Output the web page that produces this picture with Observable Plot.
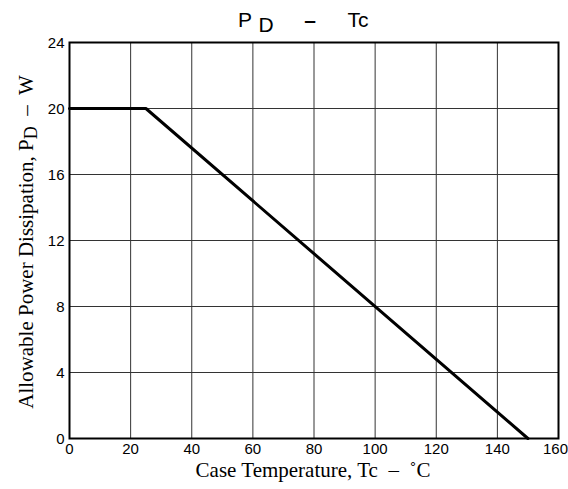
<!DOCTYPE html>
<html>
<head>
<meta charset="utf-8">
<script src="https://cdn.jsdelivr.net/npm/d3@7"></script>
<script src="https://cdn.jsdelivr.net/npm/@observablehq/plot@0.6"></script>
<style>
  html, body { margin: 0; padding: 0; background: white; }
  svg text.t { white-space: pre; }
  svg g[aria-label$="tick label"] { font-size: 15px !important; font-family: 'Liberation Sans', Arial, sans-serif !important; }
  svg g[aria-label$="tick label"] text { font-size: 15px !important; }
</style>
</head>
<body>
<div id="chart"></div>
<script>
// Data
const caseTemp = [0, 25, 150];          // Tc, °C
const powerDiss = [20, 20, 0];          // PD, W
const xTicks = [0, 20, 40, 60, 80, 100, 120, 140, 160];
const yTicks = [0, 4, 8, 12, 16, 20, 24];

const data = caseTemp.map((t, i) => ({ t, p: powerDiss[i] }));
const xMax = xTicks[xTicks.length - 1];

const W = 568, H = 489;
const chart = Plot.plot({
  width: W,
  height: H,
  marginLeft: 69,
  marginRight: 10,
  marginTop: 42,
  marginBottom: 51,
  style: { fontFamily: "'Liberation Sans', Arial, sans-serif", fontSize: "15px", color: "black", background: "white" },
  x: { domain: [0, 160] },
  y: { domain: [0, 24] },
  marks: [
    Plot.gridX(xTicks, { stroke: "#333", strokeOpacity: 1, strokeWidth: 1 }),
    Plot.gridY(yTicks, { stroke: "#333", strokeOpacity: 1, strokeWidth: 1 }),
    Plot.axisX(xTicks.filter(d => d !== xMax), { tickSize: 0, tickPadding: 5, label: null, fill: "black", fontSize: 15 }),
    Plot.axisX([xMax], { tickSize: 0, tickPadding: 5, label: null, fill: "black", fontSize: 15, dx: -3 }),
    Plot.axisY(yTicks, { tickSize: 0, tickPadding: 5, label: null, fill: "black", fontSize: 15, dy: 1 }),
    Plot.frame({ stroke: "black", strokeWidth: 2 }),
    Plot.line(data, { x: "t", y: "p", stroke: "black", strokeWidth: 3 })
  ]
});
document.getElementById("chart").appendChild(chart);

const svg = d3.select(chart);
// Title
const title = svg.append("text").attr("class", "t")
  .attr("y", 27)
  .attr("font-family", "'Liberation Sans', Arial, sans-serif")
  .attr("font-size", 21)
  .style("font-size", "21px").attr("fill", "black");
title.append("tspan").attr("x", 245).text("P");
title.append("tspan").attr("x", 266).attr("dy", 5).text("D");
title.append("tspan").attr("x", 310).attr("dy", -5).style("font-weight", "bold").text("–");
title.append("tspan").attr("x", 358).text("Tc");

// X axis label
svg.append("text").attr("class", "t")
  .attr("x", 313).attr("y", 477)
  .attr("text-anchor", "middle")
  .style("font-family", "'Liberation Serif', 'Times New Roman', serif")
  .style("font-size", "21px").attr("fill", "black")
  .text("Case Temperature, Tc  –  ˚C");

// Y axis label
const yl = svg.append("text").attr("class", "t")
  .attr("transform", "translate(33,242) rotate(-90)")
  .attr("text-anchor", "middle")
  .style("font-family", "'Liberation Serif', 'Times New Roman', serif")
  .style("font-size", "21px").attr("fill", "black");
yl.append("tspan").text("Allowable Power Dissipation, P");
yl.append("tspan").attr("dy", 4).style("font-size", "18px").text("D");
yl.append("tspan").attr("dy", -4).text("  –  W");
</script>
</body>
</html>
